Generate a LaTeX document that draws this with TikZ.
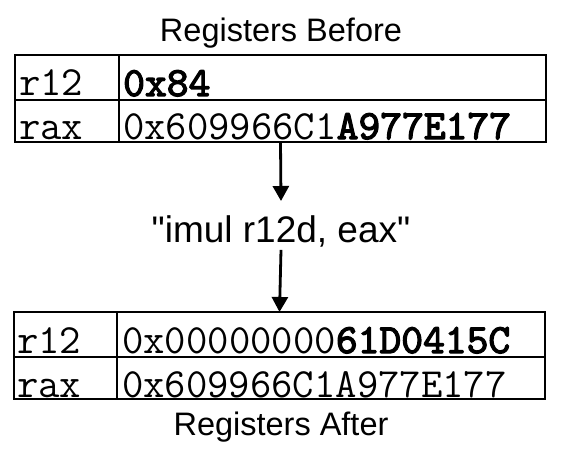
\documentclass[tikz,border=0pt]{standalone}
\usepackage{fontspec}
\setmainfont{Liberation Sans}
\newfontfamily\opfont{Liberation Sans}
\newfontfamily\boldmono{lmmono10-regular.otf}[FakeBold=3]
\newcommand\hexbold[1]{{\boldmono #1}}
\usetikzlibrary{arrows.meta}

\begin{document}
\begin{tikzpicture}[x=1pt, y=1pt,
    regline/.style={line width=2.6pt},
    regframe/.style={draw, regline, inner sep=0pt, outer sep=0pt, anchor=north west,
        minimum width=531pt, minimum height=87pt},
    regtext/.style={anchor=base west, inner sep=0pt, font=\fontsize{41.5}{44}\ttfamily},
    title/.style={anchor=base, inner sep=0pt, font=\fontsize{32.5}{36}\selectfont},
    flow/.style={line width=2.8pt, -{Triangle[width=16pt, length=15pt]}}]
    \useasboundingbox (0, 0) rectangle (562, 459);

    % Registers before
    \node[title] (titlebefore) at (281, 417) {Registers Before};
    \node[regframe] (before) at (15, 404) {};
    \draw[regline] (15, 359) -- (546, 359);
    \draw[regline] (119, 404) -- (119, 317);
    \node[regtext] (br12) at (19, 363) {r12};
    \node[regtext] (br12v) at (123, 363) {\hexbold{0x84}};
    \node[regtext] (brax) at (19, 320) {rax};
    \node[regtext] (braxv) at (123, 320) {0x609966C1\hexbold{A977E177}};

    % Instruction
    \node[anchor=base, inner sep=0pt, font=\fontsize{37}{42}\opfont] (op) at (281, 217)
        {"imul r12d, eax"};

    % Registers after
    \node[regframe] (after) at (14, 147) {};
    \draw[regline] (14, 102) -- (545, 102);
    \draw[regline] (117, 147) -- (117, 60);
    \node[regtext] (ar12) at (17, 106) {r12};
    \node[regtext] (ar12v) at (122, 106) {0x00000000\hexbold{61D0415C}};
    \node[regtext] (arax) at (17, 62) {rax};
    \node[regtext] (araxv) at (122, 62) {0x609966C1A977E177};
    \node[title] (titleafter) at (281, 24) {Registers After};

    % Arrows
    \draw[flow] (before.south) -- ([yshift=14pt]op.north);
    \draw[flow] ([yshift=-3pt]op.south) -- (after.north);
\end{tikzpicture}
\end{document}
